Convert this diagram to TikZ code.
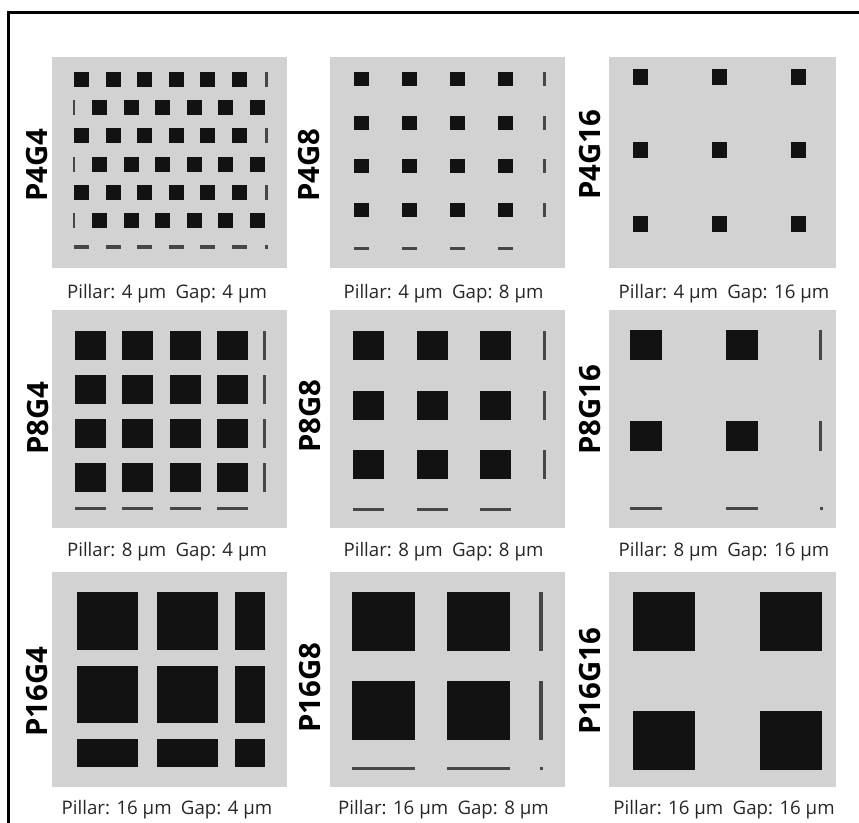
\documentclass[tikz,border=0pt]{standalone}
\usepackage{fontspec}
\setmainfont{Open Sans}
\definecolor{panelgray}{RGB}{210,210,210}
\definecolor{cutgray}{RGB}{70,70,70}
\tikzset{
  panel/.style n args={2}{fill=panelgray, inner sep=0, minimum width=#1*0.75pt, minimum height=#2*0.75pt},
  pillar/.style={fill=black!93},
  cut/.style={fill=cutgray},
  samplelabel/.style={rotate=90, anchor=west, inner sep=0, font=\bfseries\fontsize{22}{22}\selectfont},
  sizetext/.style={anchor=base, inner sep=0, text=black!85, font=\fontsize{14}{14}\selectfont}
}
\begin{document}
\begin{tikzpicture}[x=0.75pt,y=-0.75pt]
\useasboundingbox (0,0) rectangle (859,823);
\draw[line width=2.25pt] (8,823) -- (8,12.5) -- (859,12.5);
% panels
\node[panel={235}{211}] (p11) at (169.5,162.5) {};
\node[panel={235}{211}] (p12) at (447.5,162.5) {};
\node[panel={227}{211}] (p13) at (722.5,162.5) {};
\node[panel={235}{218}] (p21) at (169.5,419) {};
\node[panel={235}{218}] (p22) at (447.5,419) {};
\node[panel={227}{218}] (p23) at (722.5,419) {};
\node[panel={235}{215}] (p31) at (169.5,679.5) {};
\node[panel={235}{215}] (p32) at (447.5,679.5) {};
\node[panel={227}{215}] (p33) at (722.5,679.5) {};
% P4G4
\foreach \j in {0,2,4} {
  \foreach \i in {0,...,5}
    \fill[pillar] ({74+31.5*\i},{72+28.2*\j}) rectangle +(15,15);
  \fill[cut] (265,{72+28.2*\j}) rectangle +(3,15);
}
\foreach \j in {1,3,5} {
  \fill[cut] (73,{72+28.2*\j}) rectangle +(2,15);
  \foreach \i in {0,...,5}
    \fill[pillar] ({92+31.5*\i},{72+28.2*\j}) rectangle +(15,15);
}
\foreach \i in {0,...,5}
  \fill[cut] ({74+31.5*\i},245) rectangle +(15,4);
\fill[cut] (265,245) rectangle +(3,4);
% P4G8
\foreach \j in {0,...,3} {
  \foreach \i in {0,...,3}
    \fill[pillar] ({354+48*\i},{72+43.7*\j}) rectangle +(15,14);
  \fill[cut] (543,{72+43.7*\j}) rectangle +(3,14);
}
\foreach \i in {0,...,3}
  \fill[cut] ({354+48*\i},247) rectangle +(15,3);
% P4G16
\foreach \j in {0,1,2}
  \foreach \i in {0,1,2}
    \fill[pillar] ({633+79*\i},{69+73.5*\j}) rectangle +(15,16);
% P8G4
\foreach \j in {0,...,3} {
  \foreach \i in {0,...,3}
    \fill[pillar] ({75+47.3*\i},{331+44*\j}) rectangle +(31,29);
  \fill[cut] (263,{331+44*\j}) rectangle +(3,29);
}
\foreach \i in {0,...,3}
  \fill[cut] ({75+47.3*\i},507) rectangle +(31,3);
% P8G8
\foreach \j in {0,1,2} {
  \foreach \i in {0,1,2}
    \fill[pillar] ({353+63.5*\i},{331+59.5*\j}) rectangle +(31,29);
  \fill[cut] (543,{331+59.5*\j}) rectangle +(3,29);
}
\foreach \i in {0,1,2}
  \fill[cut] ({353+63.5*\i},508) rectangle +(31,3);
% P8G16
\foreach \j in {0,1} {
  \foreach \i in {0,1}
    \fill[pillar] ({630+96*\i},{330+91*\j}) rectangle +(32,30);
  \fill[cut] (819,{330+91*\j}) rectangle +(3,30);
}
\foreach \i in {0,1}
  \fill[cut] ({630+96*\i},507) rectangle +(32,3);
\fill[cut] (820,507) rectangle +(3,3);
% P16G4
\foreach \x/\w in {77/61,157/61,235/30}
  \foreach \y/\h in {592/58,666/57,739/28}
    \fill[pillar] (\x,\y) rectangle +(\w,\h);
% P16G8
\foreach \j in {0,1} {
  \foreach \i in {0,1}
    \fill[pillar] ({352+95*\i},{592+89*\j}) rectangle +(63,59);
  \fill[cut] (539,{592+89*\j}) rectangle +(4,59);
}
\foreach \i in {0,1}
  \fill[cut] ({352+95*\i},767) rectangle +(63,3);
\fill[cut] (540,767) rectangle +(3,3);
% P16G16
\foreach \i in {0,1}
  \foreach \j in {0,1}
    \fill[pillar] ({633+127*\i},{592+119*\j}) rectangle +(62,59);
% sample names
\node[samplelabel] (l11) at (37.5,202) {P4G4};
\node[samplelabel] (l12) at (309,202) {P4G8};
\node[samplelabel] (l13) at (590,200) {P4G16};
\node[samplelabel] (l21) at (38,455) {P8G4};
\node[samplelabel] (l22) at (310,453) {P8G8};
\node[samplelabel] (l23) at (590,455) {P8G16};
\node[samplelabel] (l31) at (37,737) {P16G4};
\node[samplelabel] (l32) at (310,733) {P16G8};
\node[samplelabel] (l33) at (590,735) {P16G16};
% sizes
\node[sizetext] (c11) at (167,298) {Pillar: 4 μm\hspace{7pt}Gap: 4 μm};
\node[sizetext] (c12) at (443.5,298) {Pillar: 4 μm\hspace{7pt}Gap: 8 μm};
\node[sizetext] (c13) at (724,298) {Pillar: 4 μm\hspace{7pt}Gap: 16 μm};
\node[sizetext] (c21) at (167,556) {Pillar: 8 μm\hspace{7pt}Gap: 4 μm};
\node[sizetext] (c22) at (443.5,556) {Pillar: 8 μm\hspace{7pt}Gap: 8 μm};
\node[sizetext] (c23) at (724,556) {Pillar: 8 μm\hspace{7pt}Gap: 16 μm};
\node[sizetext] (c31) at (167,814) {Pillar: 16 μm\hspace{7pt}Gap: 4 μm};
\node[sizetext] (c32) at (443.5,814) {Pillar: 16 μm\hspace{7pt}Gap: 8 μm};
\node[sizetext] (c33) at (724,814) {Pillar: 16 μm\hspace{7pt}Gap: 16 μm};
\end{tikzpicture}
\end{document}
